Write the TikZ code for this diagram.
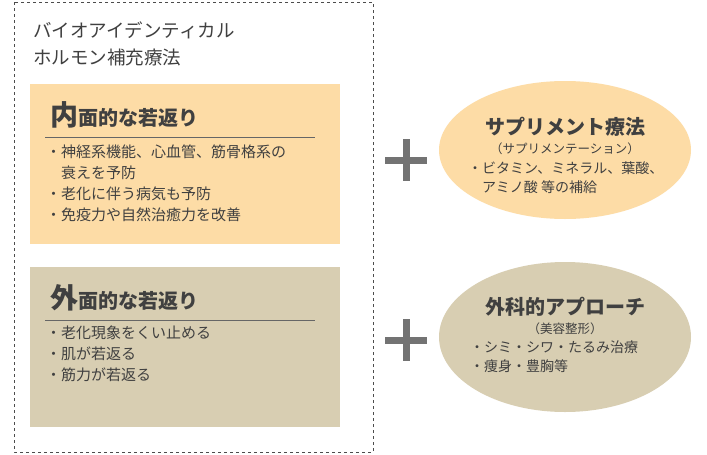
\documentclass[tikz,border=0pt]{standalone}
\usepackage{fontspec}
\setmainfont{Noto Sans CJK JP}
\definecolor{peach}{RGB}{253,220,166}
\definecolor{beige}{RGB}{216,206,178}
\begin{document}
\begin{tikzpicture}[x=1pt,y=-1pt,
  txt/.style={anchor=north west,inner sep=0pt,align=left,text=black!75},
  plus/.style={line width=7pt,draw=black!55}]
\useasboundingbox (0,0) rectangle (707,455);
\fill[white] (0,0) rectangle (707,455);
\draw[dashed,black!70] (14,2) rectangle (373,452);
\node[txt,font=\fontsize{18.5}{27}\selectfont] (title) at (33,22) {バイオアイデンティカル\\ホルモン補充療法};
\fill[peach] (30,84) rectangle (340,244);
\node[txt,font=\fontsize{20}{22}\selectfont\bfseries] (h1) at (50,101) {{\fontsize{28}{28}\selectfont 内}面的な若返り};
\draw[black!60] (45,137) -- (315,137);
\node[txt,font=\fontsize{15}{21}\selectfont] (l1) at (46,145) {・神経系機能、心血管、筋骨格系の\\\phantom{・}衰えを予防\\・老化に伴う病気も予防\\・免疫力や自然治癒力を改善};
\fill[beige] (30,267) rectangle (340,427);
\node[txt,font=\fontsize{20}{22}\selectfont\bfseries] (h2) at (50,284) {{\fontsize{28}{28}\selectfont 外}面的な若返り};
\draw[black!60] (45,320) -- (315,320);
\node[txt,font=\fontsize{15}{21}\selectfont] (l2) at (46,326) {・老化現象をくい止める\\・肌が若返る\\・筋力が若返る};
\draw[plus] (385,160) -- (427,160) (406,139) -- (406,181);
\draw[plus] (385,340) -- (427,340) (406,319) -- (406,361);
\fill[peach] (565,150) ellipse[x radius=126,y radius=69];
\fill[beige] (565,337) ellipse[x radius=126,y radius=75];
\node[font=\fontsize{20}{22}\selectfont\bfseries,text=black!75] (e1) at (565,127) {サプリメント療法};
\node[font=\fontsize{12.5}{14}\selectfont,text=black!75] (e1s) at (565,149) {（サプリメンテーション）};
\node[txt,font=\fontsize{14}{19}\selectfont] (e1l) at (468,162) {・ビタミン、ミネラル、葉酸、\\\phantom{・}アミノ酸\ 等の補給};
\node[font=\fontsize{20}{22}\selectfont\bfseries,text=black!75] (e2) at (565,307) {外科的アプローチ};
\node[font=\fontsize{12.5}{14}\selectfont,text=black!75] (e2s) at (565,329) {（美容整形）};
\node[txt,font=\fontsize{14}{19}\selectfont] (e2l) at (470,341) {・シミ・シワ・たるみ治療\\・痩身・豊胸等};
\end{tikzpicture}
\end{document}
